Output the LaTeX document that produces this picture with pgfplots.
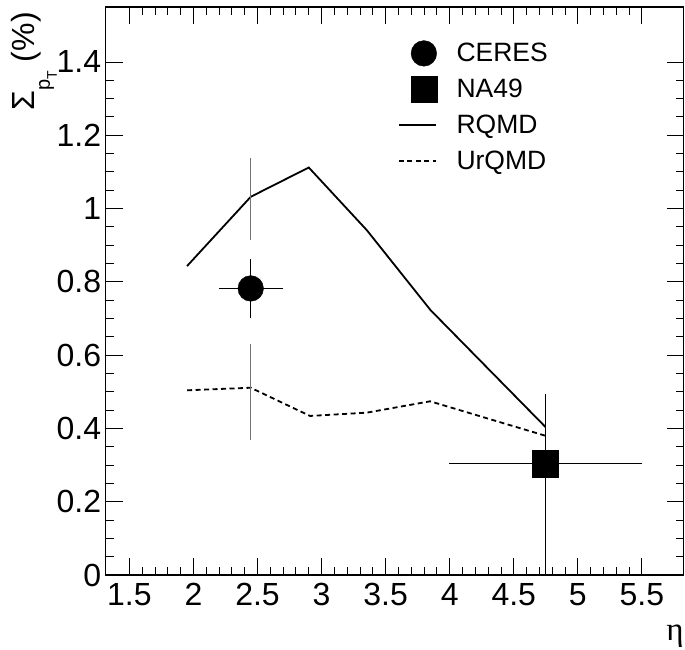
\documentclass[border=0pt]{standalone}
\usepackage{fontspec}
\setmainfont{Liberation Sans}
\newfontfamily\serifgreek{Liberation Serif}
\usepackage{pgfplots}
\pgfplotsset{compat=1.18}
\pgfplotsset{
  markleg/.style={legend image code/.code={\path[draw=none,fill=none] (0pt,-18pt) rectangle (37pt,18pt); \draw[##1] plot coordinates {(25pt,0pt)};}},
  lineleg/.style={legend image code/.code={\path[draw=none,fill=none] (0pt,-18pt) rectangle (37pt,18pt); \draw[##1] (0pt,0pt) -- (37pt,0pt);}},
}
\begin{document}
\begin{tikzpicture}
\begin{axis}[
  name=ax,
  scale only axis,
  width=578pt, height=568pt,
  xmin=1.316, xmax=5.827,
  ymin=0, ymax=1.55,
  xtick={1.5,2,2.5,3,3.5,4,4.5,5,5.5},
  xticklabels={1.5,2,2.5,3,3.5,4,4.5,5,5.5},
  ytick={0,0.2,0.4,0.6,0.8,1,1.2,1.4},
  yticklabels={0,0.2,0.4,0.6,0.8,1,1.2,1.4},
  minor x tick num=4,
  minor y tick num=3,
  tick align=inside,
  xtick pos=both, ytick pos=both,
  major tick length=16.7pt,
  minor tick length=8.3pt,
  tick style={line width=0.9pt, black},
  axis line style={line width=1.3pt},
  /pgf/number format/assume math mode=true,
  ticklabel style={font=\fontsize{32}{32}\selectfont},
  yticklabel style={inner sep=0pt, xshift=-4.5pt},
  xticklabel style={inner sep=0pt, yshift=-8pt},
  xlabel={\serifgreek η},
  xlabel style={at={(rel axis cs:1,-0.116)}, anchor=base east, inner sep=0pt, font=\fontsize{33}{33}\selectfont},
  ylabel={Σ\raisebox{-15pt}{\fontsize{20}{20}\selectfont p\raisebox{-7pt}{\fontsize{14}{14}\selectfont T}}\hspace{9pt}(\%)},
  ylabel style={at={(rel axis cs:-0.1225,0.991)}, anchor=base east, inner sep=0pt, rotate=0, font=\fontsize{32}{32}\selectfont},
  legend style={at={(rel axis cs:0.5055,0.950)}, anchor=north west, draw=none, fill=none,
    inner sep=0pt, outer sep=0pt,
    font=\fontsize{26.5}{26.5}\selectfont,
    nodes={inner sep=0pt, anchor=west},
    row sep=0pt,
    /tikz/column 1/.style={column sep=19.5pt}},
  legend cell align=left,
]
\addplot[only marks, mark=*, mark size=12.8pt, black, markleg,
  error bars/.cd, x dir=both, x explicit, y dir=both, y explicit, error mark=none,
  error bar style={line width=1.4pt, black}]
  coordinates {(2.447,0.782) +- (0.25,0.08)};
\addlegendentry{CERES}
\addplot[only marks, mark=square*, mark size=13.15pt, black, markleg,
  error bars/.cd, x dir=both, x explicit, y dir=both, y explicit, error mark=none,
  error bar style={line width=1.4pt, black}]
  coordinates {(4.747,0.304) += (0.752,0.19) -= (0.75,0.31)};
\addlegendentry{NA49}
\addplot[black, line width=1.8pt, mark=none, lineleg]
  coordinates {(1.95,0.843) (2.447,1.032) (2.9,1.112) (3.353,0.941) (3.85,0.723) (4.747,0.404)};
\addlegendentry{RQMD}
\addplot[black, line width=1.8pt, mark=none, dash pattern=on 5pt off 3.5pt, lineleg]
  coordinates {(1.95,0.504) (2.447,0.511) (2.91,0.434) (3.353,0.443) (3.847,0.474) (4.747,0.38)};
\addlegendentry{UrQMD}
\addplot[forget plot, draw=none, mark=none,
  error bars/.cd, y dir=both, y explicit, error mark=-,
  error bar style={line width=1pt, black!55},
  error mark options={mark size=2.5pt, line width=1pt, black!55}]
  coordinates {(2.447,1.032) += (0,0.098) -= (0,0.111)
               (2.447,0.511) += (0,0.112) -= (0,0.137)};
\end{axis}
\pgfresetboundingbox
\path ([shift={(-105.8pt,-75pt)}]ax.south west) rectangle ([shift={(1.2pt,7pt)}]ax.north east);
\end{tikzpicture}
\end{document}
